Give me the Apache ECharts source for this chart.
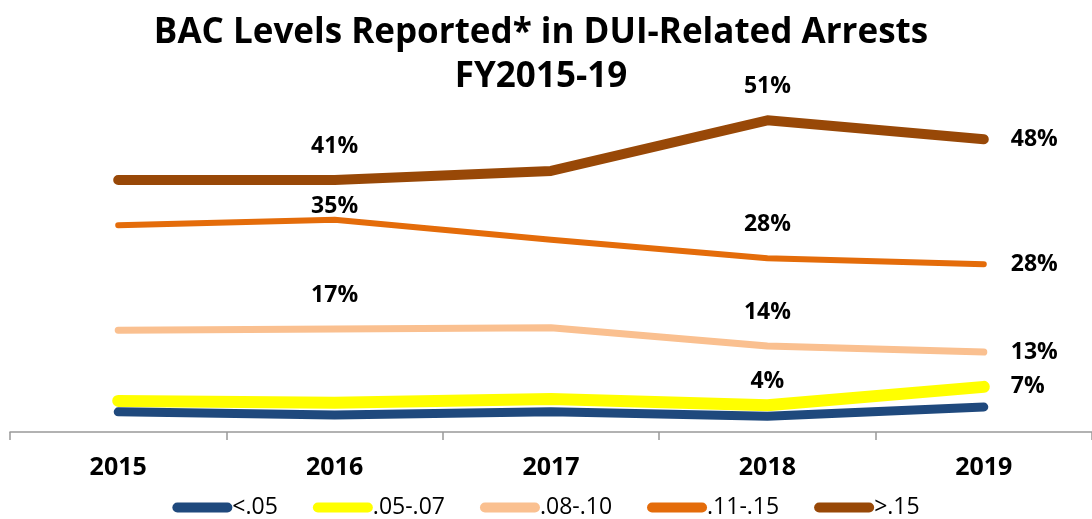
<!DOCTYPE html>
<html>
<head>
<meta charset="utf-8">
<script src="https://cdn.jsdelivr.net/npm/echarts@6/dist/echarts.min.js"></script>
<style>
  html, body { margin: 0; padding: 0; background: #fff; }
  #chart { width: 1092px; height: 519px; }
</style>
</head>
<body>
<div id="chart"></div>
<script>
// data (percent of arrests)
var years = ['2015', '2016', '2017', '2018', '2019'];
var seriesNames = ['<.05', '.05-.07', '.08-.10', '.11-.15', '>.15'];
var under05 = [3.3, 2.8, 3.3, 2.6, 4.1];
var bac05to07 = [5.1, 4.8, 5.4, 4.4, 7.4];
var bac08to10 = [16.7, 16.9, 17.1, 14.1, 13.1];
var bac11to15 = [33.9, 34.8, 31.5, 28.5, 27.5];
var over15 = [41.3, 41.3, 42.8, 51.1, 48.0];
// which points carry a label, and the text shown
var labelText = {
  '.05-.07': { 3: '4%', 4: '7%' },
  '.08-.10': { 1: '17%', 3: '14%', 4: '13%' },
  '.11-.15': { 1: '35%', 3: '28%', 4: '28%' },
  '>.15': { 1: '41%', 3: '51%', 4: '48%' }
};

var colors = ['#1f497d', '#ffff00', '#fac090', '#e46c0a', '#984807'];
var widths = [9, 12, 7, 6, 10];
var allData = [under05, bac05to07, bac08to10, bac11to15, over15];

var font = '"Open Sans", sans-serif';
var capsule = 'path://M5,0 H55 A5,5 0 0 1 55,10 H5 A5,5 0 0 1 5,0 Z';

function buildData(name, values) {
  var texts = labelText[name] || {};
  return values.map(function (v, i) {
    var item = { value: v };
    if (texts[i]) {
      var isLast = i === values.length - 1;
      item.label = {
        show: true,
        formatter: texts[i],
        position: isLast ? 'right' : 'top',
        distance: isLast ? 27 : (name === '.11-.15' && i === 1 ? 2 : (name === '.05-.07' ? 12 : 22))
      };
    }
    return item;
  });
}

var series = seriesNames.map(function (name, i) {
  return {
    name: name,
    type: 'line',
    data: buildData(name, allData[i]),
    symbol: 'circle',
    symbolSize: 0,
    showSymbol: true,
    animation: false,
    z: 10 - i,
    lineStyle: { color: colors[i], width: widths[i], cap: 'round', join: 'round' },
    itemStyle: { color: colors[i] },
    label: {
      show: false,
      color: '#000',
      fontFamily: font,
      fontWeight: 'bold',
      fontSize: 23
    }
  };
});

var myChart = echarts.init(document.getElementById('chart'));
var option = {
  backgroundColor: '#fff',
  title: {
    text: 'BAC Levels Reported* in DUI-Related Arrests\nFY2015-19',
    left: 536,
    top: 6,
    textAlign: 'center',
    textStyle: {
      fontFamily: font,
      fontWeight: 'bold',
      fontSize: 35,
      lineHeight: 44,
      color: '#000'
    }
  },
  legend: {
    bottom: -5,
    left: 'center',
    itemWidth: 60,
    itemHeight: 11,
    itemGap: 35,
    icon: capsule,
    data: seriesNames,
    textStyle: { fontFamily: font, fontSize: 23, color: '#000', padding: [0, 0, 0, -5] }
  },
  grid: { left: 10, right: -6, top: 66, bottom: 87, containLabel: false },
  xAxis: {
    type: 'category',
    data: years,
    boundaryGap: true,
    axisLine: { lineStyle: { color: '#999', width: 1.5 } },
    axisTick: { show: true, length: 8, lineStyle: { color: '#999', width: 1.5 } },
    axisLabel: {
      margin: 23,
      color: '#000',
      fontFamily: font,
      fontWeight: 'bold',
      fontSize: 25
    }
  },
  yAxis: {
    type: 'value',
    min: 0,
    max: 60,
    show: false,
    splitLine: { show: false }
  },
  series: series
};

myChart.setOption(option);
window.addEventListener('resize', function () {
  myChart.resize();
});
</script>
</body>
</html>
